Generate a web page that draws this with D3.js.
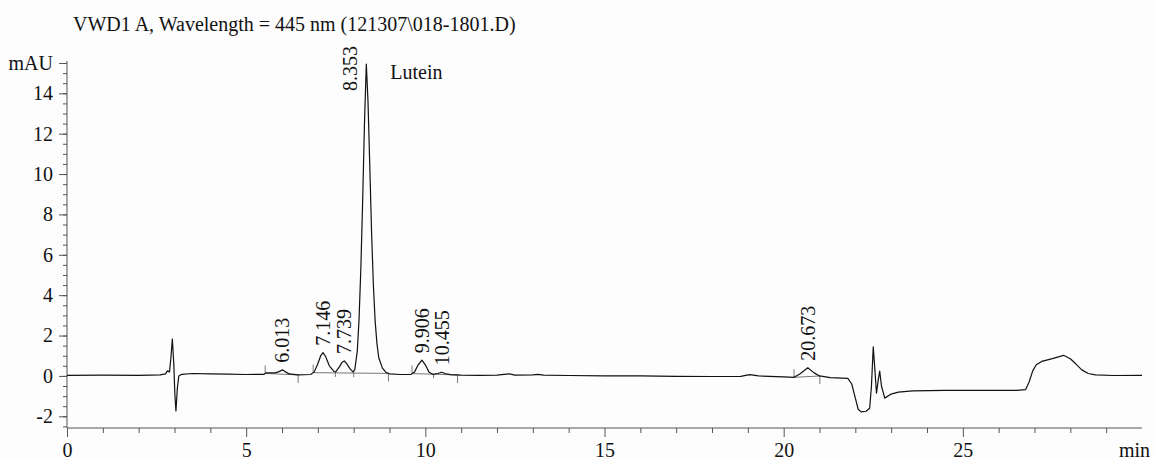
<!DOCTYPE html>
<html>
<head>
<meta charset="utf-8">
<script src="https://cdn.jsdelivr.net/npm/d3@7"></script>
<style>
body { margin: 0; background: #fdfdfd; }
</style>
</head>
<body>
<script>
// trace: retention time (min) and signal (mAU)
var times = [0.0, 1.0, 2.0, 2.6, 2.75, 2.8, 2.86, 2.9, 2.94, 2.98, 3.01, 3.04, 3.08, 3.12, 3.2, 3.5, 4.0, 4.5, 5.0, 5.5,
    5.55, 5.8, 5.9, 6.013, 6.1, 6.2, 6.45, 6.8, 6.9, 7.0, 7.08, 7.146, 7.22, 7.32, 7.45, 7.5, 7.6, 7.68, 7.739, 7.8,
    7.9, 7.98, 8.03, 8.1, 8.15, 8.2, 8.25, 8.3, 8.353, 8.4, 8.45, 8.5, 8.55, 8.6, 8.65, 8.7, 8.8, 8.9, 9.0, 9.3,
    9.6, 9.7, 9.8, 9.906, 10.0, 10.1, 10.2, 10.35, 10.455, 10.55, 10.7, 11.0, 11.5, 12.0, 12.2, 12.35, 12.5, 13.0, 13.15, 13.3,
    14.0, 15.0, 16.0, 17.0, 18.0, 18.8, 19.05, 19.3, 20.0, 20.29, 20.45, 20.673, 20.85, 21.0, 21.3, 21.79, 21.9, 22.0, 22.08, 22.16,
    22.3, 22.4, 22.45, 22.5, 22.55, 22.59, 22.64, 22.68, 22.73, 22.82, 23.0, 23.2, 23.6, 24.5, 25.5, 26.5, 26.75, 26.85, 26.95, 27.05,
    27.2, 27.5, 27.81, 28.0, 28.15, 28.32, 28.5, 28.7, 29.2, 30.0];
var signal = [0.03, 0.04, 0.03, 0.05, 0.1, 0.25, 0.2, 0.9, 1.83, 0.6, -0.9, -1.73, -0.6, 0.0, 0.08, 0.12, 0.1, 0.09, 0.07, 0.08,
    0.15, 0.15, 0.2, 0.3, 0.2, 0.1, 0.05, 0.07, 0.2, 0.6, 1.0, 1.15, 0.95, 0.5, 0.22, 0.2, 0.45, 0.68, 0.74, 0.62,
    0.35, 0.2, 0.3, 1.2, 2.8, 5.3, 8.6, 12.4, 15.45, 13.6, 10.4, 7.1, 4.5, 2.7, 1.6, 0.9, 0.4, 0.18, 0.1, 0.07,
    0.08, 0.2, 0.55, 0.78, 0.55, 0.2, 0.08, 0.12, 0.18, 0.12, 0.06, 0.04, 0.03, 0.04, 0.08, 0.1, 0.04, 0.05, 0.08, 0.04,
    0.02, 0.0, 0.0, -0.02, -0.03, -0.02, 0.06, 0.0, -0.05, -0.07, 0.1, 0.4, 0.15, 0.0, -0.08, -0.12, -0.4, -1.1, -1.65, -1.78,
    -1.75, -1.6, -0.5, 1.44, 0.2, -0.85, -0.2, 0.24, -0.5, -1.1, -0.9, -0.8, -0.74, -0.72, -0.72, -0.72, -0.68, -0.3, 0.25, 0.55,
    0.72, 0.86, 1.02, 0.85, 0.6, 0.3, 0.12, 0.05, 0.02, 0.03];

// integrated peaks
var peakTimes = [6.013, 7.146, 7.739, 8.353, 9.906, 10.455, 20.673];
var peakNames = ["6.013", "7.146", "7.739", "8.353", "9.906", "10.455", "20.673"];
var compoundName = "Lutein";
var compoundPeak = 8.353;

// integration baselines and drop lines
var baseStart = [5.53, 6.87, 9.63, 20.29];
var baseEnd = [6.45, 8.97, 10.9, 21.01];
var dropLines = [7.49, 8.0, 10.23];

var xTicks = [0, 5, 10, 15, 20, 25];
var yTicks = [-2, 0, 2, 4, 6, 8, 10, 12, 14];
var yTop = 15.5;
var title = "VWD1 A, Wavelength = 445 nm (121307\\018-1801.D)";

var font = "Liberation Serif";
var margin = { top: 61, right: 13, bottom: 32, left: 67 };
var width = 1155 - margin.left - margin.right;
var height = 460 - margin.top - margin.bottom;

var root = d3.select("body").append("svg")
    .attr("width", 1155)
    .attr("height", 460)
    .style("font-family", font);

root.append("rect").attr("width", 1155).attr("height", 460).attr("fill", "#fdfdfd");

root.append("text")
    .attr("x", 73)
    .attr("y", 31)
    .attr("font-size", "20px")
    .attr("fill", "#111")
    .text(title);

var svg = root.append("g")
    .attr("transform", `translate(${margin.left}, ${margin.top})`);

var x = d3.scaleLinear().domain([0, 30]).range([0, width]);
var y = d3.scaleLinear().domain([-2.58, 15.6]).range([height, 0]);

var points = times.map((t, i) => [t, signal[i]]);

function valueAt(t) { // signal between two read points
    var i = d3.bisectLeft(times, t);
    if (i <= 0) return signal[0];
    if (i >= times.length) return signal[signal.length - 1];
    var k = (t - times[i - 1]) / (times[i] - times[i - 1]);
    return signal[i - 1] + k * (signal[i] - signal[i - 1]);
}

var axisColor = "#555";

// y axis: minor ticks every 0.5, labelled every 2
var yMinor = d3.range(-2.5, 15.51, 0.5);
svg.append("g")
    .call(d3.axisLeft(y).tickValues(yMinor).tickSize(4).tickSizeOuter(0).tickFormat(""))
    .call((g) => g.select(".domain").remove())
    .call((g) => g.selectAll("line").attr("stroke", axisColor));
var yAxis = svg.append("g")
    .call(d3.axisLeft(y).tickValues(yTicks.concat([yTop])).tickSize(8).tickPadding(6).tickSizeOuter(0)
        .tickFormat((d) => d === yTop ? "mAU" : d))
    .call((g) => g.select(".domain").remove())
    .attr("font-family", null)
    .attr("font-size", "20px");
yAxis.selectAll("line").attr("stroke", axisColor);
yAxis.selectAll("text").attr("fill", "#111");
svg.append("line")
    .attr("x1", 0).attr("x2", 0)
    .attr("y1", 0).attr("y2", height)
    .attr("stroke", axisColor);

// x axis: minor ticks every minute
var xMinor = d3.range(1, 30, 1).filter((d) => d % 5 !== 0);
svg.append("g")
    .attr("transform", `translate(0, ${height})`)
    .call(d3.axisBottom(x).tickValues(xMinor).tickSize(5).tickSizeOuter(0).tickFormat(""))
    .call((g) => g.select(".domain").remove())
    .call((g) => g.selectAll("line").attr("stroke", axisColor));
var xAxis = svg.append("g")
    .attr("transform", `translate(0, ${height})`)
    .call(d3.axisBottom(x).tickValues(xTicks).tickSize(9).tickPadding(6).tickSizeOuter(0))
    .call((g) => g.select(".domain").remove())
    .attr("font-family", null)
    .attr("font-size", "20px");
xAxis.selectAll("line").attr("stroke", axisColor);
xAxis.selectAll("text").attr("fill", "#111");
svg.append("line")
    .attr("x1", 0).attr("x2", width)
    .attr("y1", height).attr("y2", height)
    .attr("stroke", axisColor);
svg.append("text")
    .attr("x", width + 8)
    .attr("y", height + 29)
    .attr("text-anchor", "end")
    .attr("font-size", "20px")
    .attr("fill", "#111")
    .text("min");

// integration baselines (gray) with start / end / drop marks
var baseColor = "#777";
baseStart.forEach((s, i) => {
    var e = baseEnd[i];
    svg.append("line")
        .attr("x1", x(s)).attr("y1", y(valueAt(s)))
        .attr("x2", x(e)).attr("y2", y(valueAt(e)))
        .attr("stroke", baseColor);
    svg.append("line") // start mark points up
        .attr("x1", x(s)).attr("x2", x(s))
        .attr("y1", y(valueAt(s))).attr("y2", y(valueAt(s)) - 8)
        .attr("stroke", baseColor);
    svg.append("line") // end mark points down
        .attr("x1", x(e)).attr("x2", x(e))
        .attr("y1", y(valueAt(e))).attr("y2", y(valueAt(e)) + 8)
        .attr("stroke", baseColor);
});
dropLines.forEach((t) => {
    var i = baseStart.findIndex((s, j) => t > s && t < baseEnd[j]);
    var s = baseStart[i], e = baseEnd[i];
    var base = valueAt(s) + (valueAt(e) - valueAt(s)) * (t - s) / (e - s);
    svg.append("line")
        .attr("x1", x(t)).attr("x2", x(t))
        .attr("y1", y(valueAt(t))).attr("y2", y(base) + 4)
        .attr("stroke", baseColor);
});

// the trace
svg.append("path")
    .datum(points)
    .attr("fill", "none")
    .attr("stroke", "#111")
    .attr("stroke-width", 1.2)
    .attr("stroke-linejoin", "round")
    .attr("d", d3.line().x((d) => x(d[0])).y((d) => y(d[1])));

// retention time labels, rotated; tall peak gets its label beside the apex
var labels = svg.selectAll(".rt")
    .data(peakTimes)
    .enter()
    .append("text")
    .attr("class", "rt")
    .attr("font-size", "20px")
    .attr("fill", "#111")
    .attr("dy", "0.35em")
    .text((d, i) => peakNames[i])
    .attr("transform", (d) => {
        var px = x(d), py = y(valueAt(d)) - 7;
        if (py - 50 < 0) { px = px - 16; py = y(valueAt(d)) + 27; }
        return `translate(${px}, ${py}) rotate(-90)`;
    });

svg.append("text")
    .attr("x", x(compoundPeak) + 24)
    .attr("y", y(valueAt(compoundPeak)) + 15)
    .attr("font-size", "20px")
    .attr("fill", "#111")
    .text(compoundName);
</script>
</body>
</html>
